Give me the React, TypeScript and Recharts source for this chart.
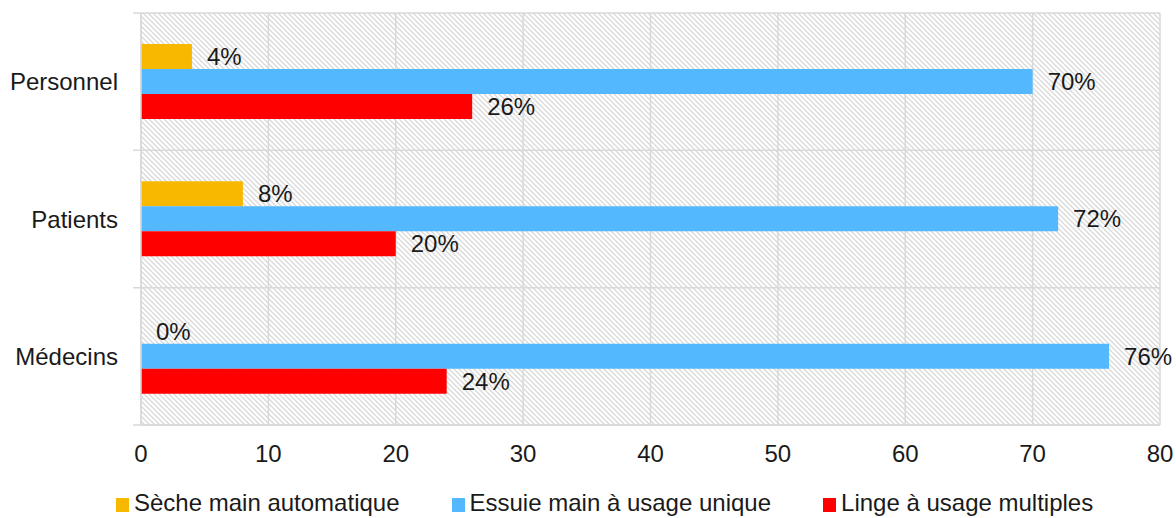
import React from 'react';
import {
  BarChart,
  Bar,
  XAxis,
  YAxis,
  CartesianGrid,
  Legend,
  LabelList,
} from 'recharts';

// Groups shown on the vertical axis, top to bottom
const categories = ['Personnel', 'Patients', 'Médecins'];

// Share (%) of each drying method per group
const secheMain = [4, 8, 0];
const essuieMain = [70, 72, 76];
const lingeMultiple = [26, 20, 24];

const seriesNames = [
  'Sèche main automatique',
  'Essuie main à usage unique',
  'Linge à usage multiples',
];

const xTicks = [0, 10, 20, 30, 40, 50, 60, 70, 80];

const data = categories.map((name, i) => ({
  name,
  seche: secheMain[i],
  essuie: essuieMain[i],
  linge: lingeMultiple[i],
}));

const FONT = '"Liberation Sans", Arial, sans-serif';
const TEXT = '#1a1a1a';
const GRID = '#d9d9d9';
const FS = 24;

const pct = (v: number) => `${v}%`;

// keep zero-valued bars in the layout (invisible sliver) so their label is still drawn
const keepZero = (v: any) => (v === 0 ? 0.001 : 0);

const LegendContent = (props: any) => {
  const items = [...(props.payload || [])].sort(
    (a: any, b: any) => seriesNames.indexOf(a.value) - seriesNames.indexOf(b.value)
  );
  return (
    <div
      style={{
        display: 'flex',
        alignItems: 'center',
        height: 30,
        paddingLeft: 116,
        fontFamily: FONT,
        fontSize: FS,
        color: TEXT,
        whiteSpace: 'nowrap',
      }}
    >
      {items.map((it: any, i: number) => (
        <div
          key={i}
          style={{ display: 'flex', alignItems: 'center', marginRight: 52 }}
        >
          <span
            style={{
              display: 'inline-block',
              width: 13,
              height: 14,
              background: it.color,
              marginRight: 5,
              marginTop: 4,
            }}
          />
          <span>{it.value}</span>
        </div>
      ))}
    </div>
  );
};

export default function App() {
  return (
    <div style={{ position: 'absolute', left: 0, top: 0 }}>
      <BarChart
        width={1176}
        height={518}
        data={data}
        layout="vertical"
        margin={{ top: 13, right: 16, bottom: 0, left: 0 }}
        barGap={0}
        barSize={25}
      >
        <defs>
          <pattern
            id="hatch"
            patternUnits="userSpaceOnUse"
            width={5}
            height={5}
          >
            <rect width={5} height={5} fill="#ffffff" />
            <path d="M-1,-1 L6,6 M-1,4 L1,6 M4,-1 L6,1" stroke="#d9d9d9" strokeWidth={1.3} />
          </pattern>
        </defs>
        <CartesianGrid
          fill="url(#hatch)"
          stroke={GRID}
          strokeWidth={1.5}
          horizontalCoordinatesGenerator={({ offset }: any) => {
            const n = categories.length;
            return Array.from({ length: n + 1 }, (_, i) => offset.top + (offset.height * i) / n);
          }}
          horizontal={(p: any) => (
            <line
              key={`h-${p.index}`}
              x1={p.x1 - 8}
              x2={p.x2}
              y1={p.y1}
              y2={p.y2}
              stroke={GRID}
              strokeWidth={1.5}
            />
          )}
        />
        <XAxis
          type="number"
          domain={[0, 80]}
          ticks={xTicks}
          interval={0}
          height={63}
          tickLine={false}
          tickMargin={14}
          axisLine={{ stroke: GRID, strokeWidth: 1.5 }}
          tick={{ fill: TEXT, fontSize: FS, fontFamily: FONT }}
        />
        <YAxis
          type="category"
          dataKey="name"
          width={141}
          tickLine={false}
          tickMargin={17}
          axisLine={{ stroke: GRID, strokeWidth: 1.5 }}
          tick={{ fill: TEXT, fontSize: FS, fontFamily: FONT }}
        />
        <Legend verticalAlign="bottom" itemSorter={null as any} content={<LegendContent />} />
        <Bar dataKey="seche" name={seriesNames[0]} fill="#F9B800" minPointSize={keepZero} isAnimationActive={false}>
          <LabelList dataKey="seche" position="right" offset={15} formatter={pct} fill={TEXT} fontSize={FS} fontFamily={FONT} />
        </Bar>
        <Bar dataKey="essuie" name={seriesNames[1]} fill="#53B8FE" isAnimationActive={false}>
          <LabelList dataKey="essuie" position="right" offset={15} formatter={pct} fill={TEXT} fontSize={FS} fontFamily={FONT} />
        </Bar>
        <Bar dataKey="linge" name={seriesNames[2]} fill="#FF0000" isAnimationActive={false}>
          <LabelList dataKey="linge" position="right" offset={15} formatter={pct} fill={TEXT} fontSize={FS} fontFamily={FONT} />
        </Bar>
      </BarChart>
    </div>
  );
}
